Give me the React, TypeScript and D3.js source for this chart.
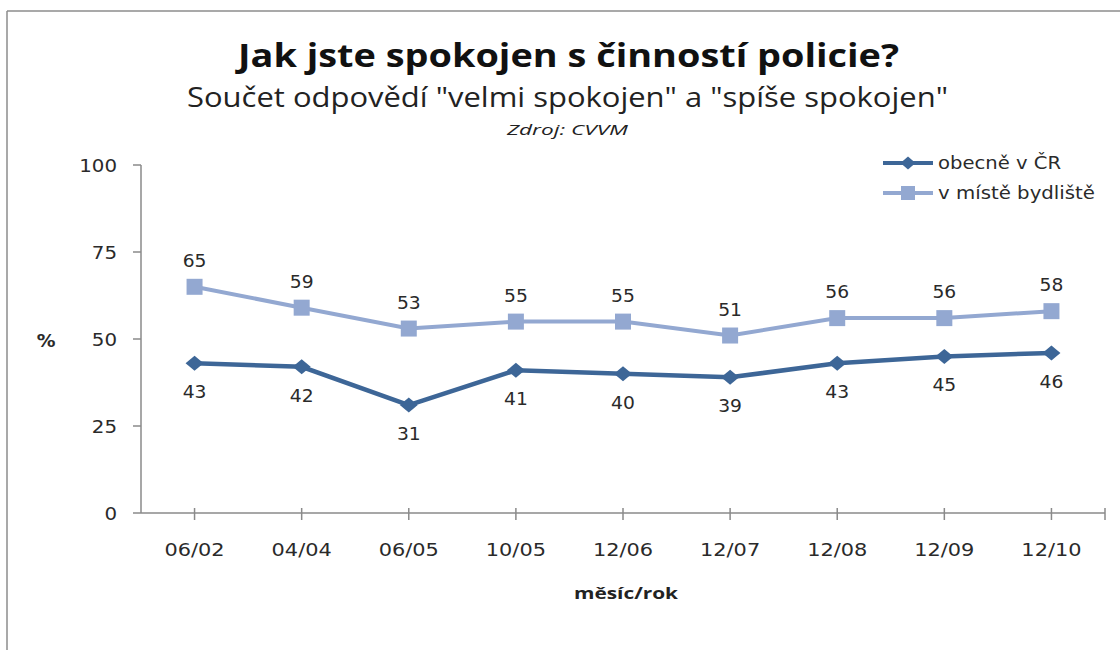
import React from "react";
import * as d3 from "d3";

const categories = ["06/02", "04/04", "06/05", "10/05", "12/06", "12/07", "12/08", "12/09", "12/10"];
const obecneVCR = [43, 42, 31, 41, 40, 39, 43, 45, 46];
const vMisteBydliste = [65, 59, 53, 55, 55, 51, 56, 56, 58];
const yTicks = [0, 25, 50, 75, 100];
const seriesNames = ["obecně v ČR", "v místě bydliště"];

const W = 1120;
const H = 650;
const DARK = "#3D6697";
const LIGHT = "#93A8D1";
const AXIS = "#8a8a8a";
const TXT = "#2a2a2a";

export default function App() {
  const x = d3.scaleBand<string>().domain(categories).range([141, 1105]).paddingInner(0).paddingOuter(0);
  const cx = (c: string) => (x(c) as number) + x.bandwidth() / 2;
  const y = d3.scaleLinear().domain([0, 100]).range([513, 165]);

  const line = d3
    .line<number>()
    .x((_, i) => cx(categories[i]))
    .y((v) => y(v));

  const diamond = (px: number, py: number, w = 18, h = 15) =>
    `M${px - w / 2},${py}L${px},${py - h / 2}L${px + w / 2},${py}L${px},${py + h / 2}Z`;

  const numFont = "'DejaVu Sans', Verdana, sans-serif";
  const calibriLike = "'Open Sans', 'Liberation Sans', sans-serif";

  const T = (props: {
    x: number;
    y: number;
    sx?: number;
    size: number;
    anchor?: string;
    text: string;
    weight?: string;
    fill?: string;
    family?: string;
  }) => (
    <text
      transform={`translate(${props.x},${props.y}) scale(${props.sx ?? 1},1)`}
      textAnchor={props.anchor ?? "middle"}
      fontSize={props.size}
      fontFamily={props.family ?? numFont}
      fontWeight={props.weight ?? "normal"}
      fill={props.fill ?? TXT}
    >
      {props.text}
    </text>
  );

  const xEnd = x.range()[1];

  return (
    <svg
      width={W}
      height={H}
      viewBox={`0 0 ${W} ${H}`}
      style={{ position: "fixed", left: 0, top: 0, background: "#fff" }}
    >
      <rect x={0} y={0} width={W} height={H} fill="#fff" />
      {/* outer frame (cropped at right and bottom) */}
      <line x1={7} y1={11} x2={W} y2={11} stroke="#8c8c8c" strokeWidth={1.5} />
      <line x1={7} y1={11} x2={7} y2={H} stroke="#8c8c8c" strokeWidth={1.5} />

      {/* titles */}
      <text
        x={568.5}
        y={67}
        textAnchor="middle"
        fontFamily={calibriLike}
        fontWeight="bold"
        fontSize={33}
        textLength={661}
        lengthAdjust="spacingAndGlyphs"
        fill="#111"
      >
        Jak jste spokojen s činností policie?
      </text>
      <text
        x={567.5}
        y={107}
        textAnchor="middle"
        fontFamily={calibriLike}
        fontSize={27}
        textLength={761}
        lengthAdjust="spacingAndGlyphs"
        fill="#222"
      >
        Součet odpovědí "velmi spokojen" a "spíše spokojen"
      </text>
      <text
        x={567.5}
        y={135}
        textAnchor="middle"
        fontFamily={calibriLike}
        fontStyle="italic"
        fontSize={15}
        textLength={121}
        lengthAdjust="spacingAndGlyphs"
        fill="#222"
      >
        Zdroj: CVVM
      </text>

      {/* y axis */}
      <line x1={141} y1={y(100)} x2={141} y2={y(0)} stroke={AXIS} strokeWidth={1.5} />
      {yTicks.map((t) => (
        <g key={"yt" + t}>
          <line x1={133} y1={y(t)} x2={141} y2={y(t)} stroke={AXIS} strokeWidth={1.5} />
          <T x={117} y={y(t) + 6.5} size={18} sx={1.1} anchor="end" text={String(t)} />
        </g>
      ))}
      <T x={46} y={347} size={17} sx={1.1} weight="bold" text="%" />

      {/* x axis */}
      <line x1={141} y1={y(0)} x2={xEnd} y2={y(0)} stroke={AXIS} strokeWidth={1.5} />
      {categories.map((c) => (
        <g key={"xt" + c}>
          <line x1={cx(c)} y1={y(0) - 5} x2={cx(c)} y2={y(0) + 7} stroke={AXIS} strokeWidth={1.5} />
          <T x={cx(c)} y={556} size={18} sx={1.16} text={c} />
        </g>
      ))}
      <line x1={xEnd} y1={y(0) - 5} x2={xEnd} y2={y(0) + 7} stroke={AXIS} strokeWidth={1.5} />
      <text
        x={626}
        y={599}
        textAnchor="middle"
        fontFamily={calibriLike}
        fontWeight="bold"
        fontSize={16}
        textLength={104}
        lengthAdjust="spacingAndGlyphs"
        fill="#222"
      >
        měsíc/rok
      </text>

      {/* series: v místě bydliště */}
      <path d={line(vMisteBydliste) ?? ""} fill="none" stroke={LIGHT} strokeWidth={4} />
      {vMisteBydliste.map((v, i) => (
        <g key={"m" + i}>
          <rect x={cx(categories[i]) - 8} y={y(v) - 8} width={16} height={16} fill={LIGHT} />
          <T x={cx(categories[i])} y={y(v) - 20} size={17} sx={1.1} text={String(v)} />
        </g>
      ))}

      {/* series: obecně v ČR */}
      <path d={line(obecneVCR) ?? ""} fill="none" stroke={DARK} strokeWidth={4.5} />
      {obecneVCR.map((v, i) => (
        <g key={"o" + i}>
          <path d={diamond(cx(categories[i]), y(v))} fill={DARK} />
          <T x={cx(categories[i])} y={y(v) + 35} size={17} sx={1.1} text={String(v)} />
        </g>
      ))}

      {/* legend */}
      <line x1={883} y1={163} x2={933} y2={163} stroke={DARK} strokeWidth={4} />
      <path d={diamond(908, 163, 15, 13)} fill={DARK} />
      <text
        x={938}
        y={169}
        fontFamily={numFont}
        fontSize={17}
        textLength={123}
        lengthAdjust="spacingAndGlyphs"
        fill={TXT}
      >
        {seriesNames[0]}
      </text>
      <line x1={883} y1={193} x2={933} y2={193} stroke={LIGHT} strokeWidth={4} />
      <rect x={901} y={186} width={14} height={14} fill={LIGHT} />
      <text
        x={938}
        y={199}
        fontFamily={numFont}
        fontSize={17}
        textLength={157}
        lengthAdjust="spacingAndGlyphs"
        fill={TXT}
      >
        {seriesNames[1]}
      </text>
    </svg>
  );
}
